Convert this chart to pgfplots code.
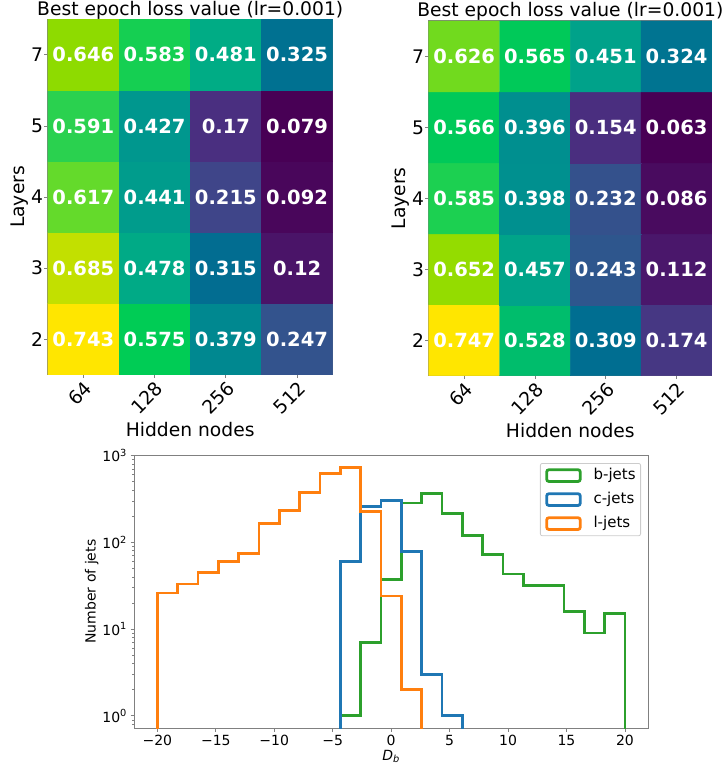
\documentclass[border=0pt]{standalone}
\usepackage{pgfplots}
\pgfplotsset{compat=1.18}
\usepackage{pgfplotstable}
\usepackage{fontspec}
\setmainfont{DejaVu Sans}
\definecolor{bjet}{HTML}{2CA02C}
\definecolor{cjet}{HTML}{1F77B4}
\definecolor{ljet}{HTML}{FF7F0E}
\definecolor{spine}{gray}{0.5}
\definecolor{legframe}{gray}{0.8}

\pgfplotsset{colormap={satviridis}{
  rgb255(0pt)=(72,0,85) rgb255(62pt)=(74,20,104) rgb255(137pt)=(74,47,128)
  rgb255(205pt)=(63,69,137) rgb255(253pt)=(51,83,141) rgb255(360pt)=(0,110,145)
  rgb255(452pt)=(0,136,144) rgb255(530pt)=(0,152,142) rgb255(603pt)=(0,171,134)
  rgb255(747pt)=(0,204,85) rgb255(770pt)=(40,209,80) rgb255(810pt)=(100,218,43)
  rgb255(854pt)=(142,219,0) rgb255(913pt)=(194,224,0) rgb255(1000pt)=(255,230,0)}}

\pgfplotstableread{
x y v
0 0 0.743
1 0 0.575
2 0 0.379
3 0 0.247
0 1 0.685
1 1 0.478
2 1 0.315
3 1 0.12
0 2 0.617
1 2 0.441
2 2 0.215
3 2 0.092
0 3 0.591
1 3 0.427
2 3 0.17
3 3 0.079
0 4 0.646
1 4 0.583
2 4 0.481
3 4 0.325
}\lefttab

\pgfplotstableread{
x y v
0 0 0.747
1 0 0.528
2 0 0.309
3 0 0.174
0 1 0.652
1 1 0.457
2 1 0.243
3 1 0.112
0 2 0.585
1 2 0.398
2 2 0.232
3 2 0.086
0 3 0.566
1 3 0.396
2 3 0.154
3 3 0.063
0 4 0.626
1 4 0.565
2 4 0.451
3 4 0.324
}\righttab

\pgfplotstableread{
x y
-4.348 0.1
-4.348 1
-2.609 7
-0.870 37
0.870 283
2.609 363
4.348 214
6.087 120
7.826 72
9.565 43
11.304 31.6
13.043 32
14.783 16
16.522 9
18.261 15
20 0.1
}\bjets

\pgfplotstableread{
x y
-4.348 0.1
-4.348 60
-2.609 256
-0.870 303
0.870 79
2.609 3
4.348 1
6.087 0.1
}\cjets

\pgfplotstableread{
x y
-20 0.1
-20 26
-18.261 33
-16.522 45
-14.783 60
-13.043 74
-11.304 164
-9.565 233
-7.826 376
-6.087 617
-4.348 728
-2.609 225
-0.870 24
0.870 2
2.609 0.1
}\ljets

\pgfplotsset{
  hm/.style={
    scale only axis,
    width=285pt, height=355.4pt,
    anchor=south west,
    xmin=-0.5, xmax=3.5, ymin=-0.5, ymax=4.5,
    enlargelimits=false,
    colormap name=satviridis,
    xtick={0,1,2,3}, xticklabels={64,128,256,512},
    ytick={0,1,2,3,4}, yticklabels={2,3,4,5,7},
    tick pos=left,
    tick align=outside,
    major tick length=3.5pt,
    tick style={spine, line width=0.8pt},
    axis line style={spine, line width=1pt},
    ticklabel style={font=\fontsize{18.7}{22}\selectfont},
    xticklabel style={inner sep=0pt, yshift=-1.5pt, anchor=north east, rotate=45},
    yticklabel style={inner sep=1pt},
    title={Best epoch loss value (lr=0.001)},
    title style={at={(0.5,1)}, anchor=base, yshift=-1.7pt, inner sep=0pt, font=\fontsize{18.7}{22}\selectfont},
    xlabel={Hidden nodes},
    ylabel={Layers},
    xlabel style={at={([yshift=-55.3pt]axis description cs:0.5,0)}, anchor=center, font=\fontsize{18.7}{22}\selectfont},
    ylabel style={at={([xshift=-28.5pt]axis description cs:0,0.5)}, anchor=center, font=\fontsize{18.7}{22}\selectfont},
  },
  ann/.style={
    only marks, mark=none,
    nodes near coords,
    point meta=explicit symbolic,
    nodes near coords style={text=white, anchor=center, inner sep=0pt,
      font=\bfseries\fontsize{19.5}{22}\selectfont},
  },
  hist/.style={const plot mark left, line width=2.8pt, no marks},
}

\begin{document}
\begin{tikzpicture}[x=1pt,y=1pt]
\useasboundingbox (0,0) rectangle (725,772);

% left heatmap
\begin{axis}[hm, at={(47.7pt,397.3pt)}]
\addplot[matrix plot*, mesh/cols=4, point meta=explicit] table[x=x, y=y, meta=v] {\lefttab};
\addplot[ann] table[x=x, y=y, meta=v] {\lefttab};
\end{axis}

% right heatmap
\begin{axis}[hm, at={(428.7pt,396.3pt)}, width=283.3pt, height=354.7pt]
\addplot[matrix plot*, mesh/cols=4, point meta=explicit] table[x=x, y=y, meta=v] {\righttab};
\addplot[ann] table[x=x, y=y, meta=v] {\righttab};
\end{axis}

% histogram
\begin{axis}[
  scale only axis,
  width=514.3pt, height=273.3pt,
  at={(134pt,43.7pt)}, anchor=south west,
  ymode=log,
  xmin=-22, xmax=22, ymin=0.7194, ymax=1012,
  xtick={-20,-15,-10,-5,0,5,10,15,20},
  xticklabels={−20,−15,−10,−5,0,5,10,15,20},
  ytick={1,10,100,1000},
  yticklabels={10\textsuperscript{0},10\textsuperscript{1},10\textsuperscript{2},10\textsuperscript{3}},
  minor ytick={0.8,0.9,2,3,4,5,6,7,8,9,20,30,40,50,60,70,80,90,200,300,400,500,600,700,800,900},
  tick pos=left,
  tick align=outside,
  major tick length=3.5pt,
  minor tick length=2pt,
  tick style={spine, line width=0.8pt},
  minor tick style={spine, line width=0.6pt},
  axis line style={spine, line width=1pt},
  ticklabel style={font=\fontsize{14}{16}\selectfont},
  xlabel={{\itshape D}\textsubscript{\itshape b}},
  ylabel={Number of jets},
  xlabel style={at={([yshift=-28.4pt]axis description cs:0.5,0)}, anchor=center, font=\fontsize{14}{16}\selectfont},
  ylabel style={at={([xshift=-42.3pt]axis description cs:0,0.5)}, anchor=center, font=\fontsize{14}{16}\selectfont},
  legend cell align=left,
  legend image code/.code={\draw[#1, line width=2.8pt] (0pt,-5.8pt) rectangle (33.4pt,5.8pt);},
  legend style={at={(1,1)}, anchor=north east, xshift=-7.3pt, yshift=-8pt,
    draw=legframe, line width=0.8pt, rounded corners=2pt,
    font=\fontsize{15}{17}\selectfont, row sep=9.6pt, inner xsep=5pt, inner ysep=5pt,
    nodes={inner sep=0pt, text height=10.8pt, text depth=3pt},
    /tikz/every odd column/.append style={column sep=12pt}},
]
\addplot[hist, bjet] table[x=x, y=y] {\bjets};
\addlegendentry{b-jets}
\addplot[hist, cjet] table[x=x, y=y] {\cjets};
\addlegendentry{c-jets}
\addplot[hist, ljet] table[x=x, y=y] {\ljets};
\addlegendentry{l-jets}
\end{axis}
\end{tikzpicture}
\end{document}
